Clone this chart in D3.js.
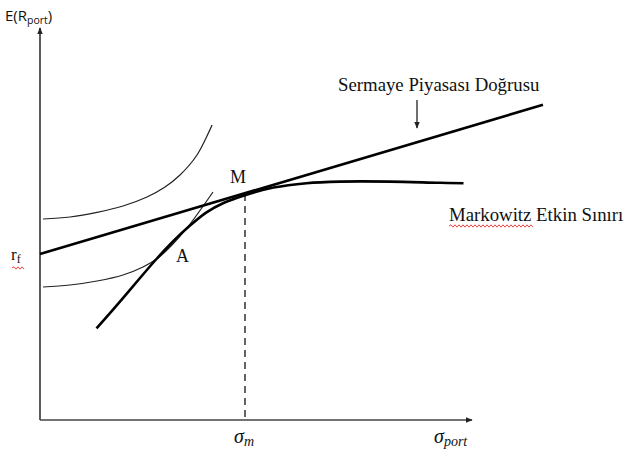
<!DOCTYPE html>
<html><head><meta charset="utf-8">
<script src="https://cdn.jsdelivr.net/npm/d3@7"></script>
<style>body{margin:0;background:#fff}svg{display:block}</style>
</head><body>
<svg id="c" width="625" height="452"></svg>
<script>
// Data (abstract units: risk sigma, expected return)
const frontierX = [11.3, 15.3, 20, 23.3, 26.7, 30, 33.3, 36.7, 41, 46.7, 53.3, 60, 70, 80, 84.7];
const frontierY = [22.9, 28.6, 35.5, 40.25, 44.75, 48.6, 51.9, 54.25, 56.2, 58.1, 59.2, 59.6, 59.6, 59.3, 59.2];
const upperIndX = [0.6, 6, 11.4, 16.6, 21.4, 25, 28, 31.4, 34.4];
const upperIndY = [50.25, 50.75, 51.9, 53.5, 55.75, 58.25, 61.25, 66.25, 73.75];
const lowerIndX = [0.6, 6, 11.4, 16.6, 20.6, 23.6, 26.4, 29.4, 34.6];
const lowerIndY = [33.25, 33.75, 34.75, 36.25, 38.25, 40.5, 43.75, 48, 57];
const cmlX = [0, 100.6];
const cmlY = [41.5, 78.8];
const sigmaM = 41, returnM = 56.5;
const axisXMax = 86.4, axisYMax = 98;

const svg = d3.select("#c");
const x = d3.scaleLinear().domain([0, 100]).range([40, 540]);
const y = d3.scaleLinear().domain([0, 100]).range([420, 20]);

const defs = svg.append("defs");
defs.append("marker").attr("id","arr").attr("viewBox","0 0 10 10").attr("refX",9).attr("refY",5)
  .attr("markerWidth",7).attr("markerHeight",7).attr("markerUnits","userSpaceOnUse").attr("orient","auto")
  .append("path").attr("d","M0,1 L10,5 L0,9 z").attr("fill","#222");

const zip = (a,b)=>a.map((v,i)=>[v,b[i]]);
const line = d3.line().x(d=>x(d[0])).y(d=>y(d[1])).curve(d3.curveCatmullRom.alpha(0.5));

// axes
svg.append("line").attr("x1",x(0)).attr("y1",y(0)).attr("x2",x(0)).attr("y2",y(axisYMax))
  .attr("stroke","#333").attr("stroke-width",1.6).attr("marker-end","url(#arr)");
svg.append("line").attr("x1",x(0)).attr("y1",y(0)).attr("x2",x(axisXMax)).attr("y2",y(0))
  .attr("stroke","#444").attr("stroke-width",1.6).attr("marker-end","url(#arr)");

// dashed sigma_m
svg.append("line").attr("x1",x(sigmaM)).attr("y1",y(returnM)).attr("x2",x(sigmaM)).attr("y2",y(0))
  .attr("stroke","#111").attr("stroke-width",1.3).attr("stroke-dasharray","7,5");

// indifference curves
svg.append("path").attr("d",line(zip(upperIndX,upperIndY))).attr("fill","none").attr("stroke","#222").attr("stroke-width",1.2);
svg.append("path").attr("d",line(zip(lowerIndX,lowerIndY))).attr("fill","none").attr("stroke","#222").attr("stroke-width",1.2);

// CML
svg.append("path").attr("d",d3.line().x(d=>x(d[0])).y(d=>y(d[1]))(zip(cmlX,cmlY)))
  .attr("fill","none").attr("stroke","#000").attr("stroke-width",2.6);

// frontier
svg.append("path").attr("d",line(zip(frontierX,frontierY))).attr("fill","none").attr("stroke","#000").attr("stroke-width",2.6);

// label arrow to CML
svg.append("line").attr("x1",417).attr("y1",100).attr("x2",417).attr("y2",128)
  .attr("stroke","#222").attr("stroke-width",1.3).attr("marker-end","url(#arr)");

const serif = "'Liberation Serif','Times New Roman',serif";
svg.append("text").attr("x",338).attr("y",91).attr("font-family",serif).attr("font-size",18.8).attr("fill","#111")
  .text("Sermaye Piyasası Doğrusu");
svg.append("text").attr("x",449).attr("y",221).attr("font-family",serif).attr("font-size",18.8).attr("fill","#111")
  .text("Markowitz Etkin Sınırı");
svg.append("text").attr("x",230).attr("y",183).attr("font-family",serif).attr("font-size",18).attr("fill","#111").text("M");
svg.append("text").attr("x",176).attr("y",262).attr("font-family",serif).attr("font-size",18).attr("fill","#111").text("A");

// r_f
const rf = svg.append("text").attr("x",11).attr("y",260).attr("font-family",serif).attr("font-size",17).attr("fill","#111");
rf.append("tspan").text("r");
rf.append("tspan").attr("font-size",12).attr("dy",3).text("f");

// wavy underlines (spell-check marks)
function wavy(x0,x1,yy){
  let d=`M${x0},${yy}`; let up=true;
  for(let xx=x0+2; xx<=x1; xx+=2){ d+=` L${xx},${yy+(up?-1.2:1.2)}`; up=!up; }
  svg.append("path").attr("d",d).attr("fill","none").attr("stroke","#e33").attr("stroke-width",0.9);
}
wavy(449,533,226);
wavy(12,24,268);

// title
const t = svg.append("text").attr("x",5).attr("y",21).attr("font-family","'Open Sans','Liberation Sans',sans-serif").attr("font-size",15).attr("fill","#111");
t.append("tspan").text("E(R");
t.append("tspan").attr("font-size",10.5).attr("dy",3).text("port");
t.append("tspan").attr("dy",-3).text(")");

// sigma labels
const sm = svg.append("text").attr("x",234).attr("y",443).attr("font-family",serif).attr("font-style","italic").attr("font-size",20).attr("fill","#111");
sm.append("tspan").text("σ");
sm.append("tspan").attr("font-size",14).attr("dy",3).text("m");
const sp = svg.append("text").attr("x",434).attr("y",443).attr("font-family",serif).attr("font-style","italic").attr("font-size",20).attr("fill","#111");
sp.append("tspan").text("σ");
sp.append("tspan").attr("font-size",14).attr("dy",3).text("port");
</script>
</body></html>
